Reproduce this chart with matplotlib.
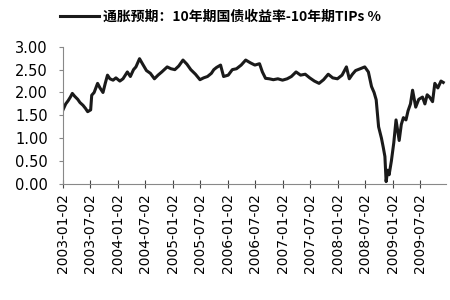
import matplotlib
matplotlib.use('Agg')
from matplotlib import pyplot as plt
import pandas as pd

plt.rcParams['font.family'] = ['DejaVu Sans', 'Noto Sans CJK SC']

dates = ['2003-01-02', '2003-01-20', '2003-02-05', '2003-02-20', '2003-03-05', '2003-03-20',
         '2003-04-10', '2003-04-25', '2003-05-15', '2003-06-01', '2003-06-15', '2003-07-05',
         '2003-07-12', '2003-07-28', '2003-08-20', '2003-09-05', '2003-09-25', '2003-10-10',
         '2003-10-25', '2003-11-10', '2003-12-01', '2003-12-20', '2004-01-15', '2004-02-05',
         '2004-03-05', '2004-03-25', '2004-04-15', '2004-05-01', '2004-05-25', '2004-06-15',
         '2004-07-10', '2004-08-05', '2004-09-01', '2004-09-25', '2004-10-20', '2004-11-25',
         '2004-12-20', '2005-01-15', '2005-02-10', '2005-03-10', '2005-04-05', '2005-05-01',
         '2005-06-01', '2005-07-01', '2005-07-25', '2005-08-20', '2005-09-15', '2005-10-01',
         '2005-10-20', '2005-11-15', '2005-12-05', '2006-01-05', '2006-02-01', '2006-03-01',
         '2006-04-01', '2006-05-01', '2006-06-01', '2006-07-01', '2006-08-01', '2006-08-20',
         '2006-09-10', '2006-10-05', '2006-11-01', '2006-12-01', '2007-01-01', '2007-02-01',
         '2007-03-01', '2007-04-01', '2007-05-01', '2007-06-01', '2007-07-01', '2007-08-01',
         '2007-09-01', '2007-10-01', '2007-11-01', '2007-12-01', '2008-01-01', '2008-02-01',
         '2008-03-01', '2008-03-20', '2008-04-10', '2008-05-01', '2008-06-01', '2008-07-01',
         '2008-07-25', '2008-08-15', '2008-09-01', '2008-09-15', '2008-10-01', '2008-10-20',
         '2008-11-01', '2008-11-12', '2008-11-20', '2008-12-01', '2008-12-10', '2008-12-25',
         '2009-01-10', '2009-01-25', '2009-02-15', '2009-03-01', '2009-03-15', '2009-04-01',
         '2009-04-15', '2009-05-01', '2009-05-15', '2009-06-05', '2009-06-25', '2009-07-20',
         '2009-08-05', '2009-08-20', '2009-09-05', '2009-09-25', '2009-10-10', '2009-10-30',
         '2009-11-20', '2009-12-05']
values = [1.62, 1.75, 1.82, 1.90, 1.98, 1.92,
          1.85, 1.78, 1.72, 1.65, 1.58, 1.62,
          1.94, 2.00, 2.20, 2.10, 2.00, 2.20,
          2.38, 2.30, 2.27, 2.32, 2.25, 2.30,
          2.45, 2.35, 2.50, 2.56, 2.74, 2.62,
          2.48, 2.42, 2.30, 2.38, 2.45, 2.56,
          2.52, 2.50, 2.58, 2.71, 2.62, 2.50,
          2.40, 2.28, 2.32, 2.35, 2.42, 2.50,
          2.55, 2.60, 2.35, 2.38, 2.50, 2.52,
          2.60, 2.71, 2.65, 2.60, 2.63, 2.45,
          2.31, 2.30, 2.28, 2.30, 2.27, 2.30,
          2.35, 2.45, 2.38, 2.40, 2.32, 2.25,
          2.20, 2.28, 2.40, 2.32, 2.30, 2.38,
          2.56, 2.30, 2.40, 2.48, 2.52, 2.56,
          2.45, 2.13, 2.00, 1.84, 1.25, 1.00,
          0.80, 0.60, 0.05, 0.30, 0.20, 0.50,
          0.90, 1.40, 0.95, 1.30, 1.45, 1.40,
          1.60, 1.75, 2.05, 1.68, 1.85, 1.90,
          1.75, 1.95, 1.90, 1.80, 2.20, 2.10,
          2.25, 2.22]
tick_labels = ['2003-01-02', '2003-07-02', '2004-01-02', '2004-07-02', '2005-01-02',
               '2005-07-02', '2006-01-02', '2006-07-02', '2007-01-02', '2007-07-02',
               '2008-01-02', '2008-07-02', '2009-01-02', '2009-07-02']

x = pd.to_datetime(dates)
ticks = pd.to_datetime(tick_labels)

fig = plt.figure(figsize=(4.5, 3), dpi=100)
ax = fig.add_axes([0.14, 0.387, 0.85, 0.457])
line, = ax.plot(x, values, color='#1a1a1a', lw=2.2)

ax.set_ylim(0, 3)
ax.set_yticks([0, 0.5, 1, 1.5, 2, 2.5, 3])
ax.set_yticklabels(['%.2f' % v for v in ax.get_yticks()], fontsize=10.5)
ax.set_xlim(pd.Timestamp('2003-01-02'), pd.Timestamp('2009-12-20'))
ax.set_xticks(ticks)
ax.set_xticklabels(tick_labels, rotation=90, fontsize=10)

for s in ['top', 'right']:
    ax.spines[s].set_visible(False)
for s in ['left', 'bottom']:
    ax.spines[s].set_color('#888888')
ax.tick_params(axis='y', length=3, color='#888888', pad=8)
ax.tick_params(axis='x', direction='inout', length=6, color='#444444')

fig.legend([line], ['通胀预期：10年期国债收益率-10年期TIPs %'], loc='upper left',
           bbox_to_anchor=(0.105, 1.01), frameon=False, handlelength=2.8,
           handletextpad=0.3,
           prop={'family': ['Noto Sans CJK SC'], 'weight': 'bold', 'size': 10})

fig.savefig('out.png', dpi=100)
